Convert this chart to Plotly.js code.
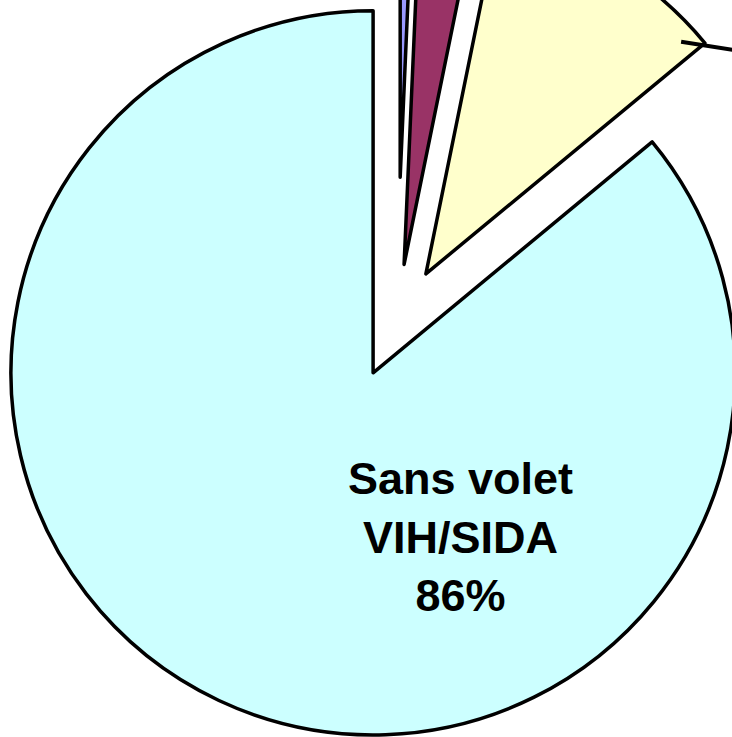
<!DOCTYPE html>
<html>
<head>
<meta charset="utf-8">
<script src="https://cdn.plot.ly/plotly-3.0.1.min.js"></script>
<style>
  html, body { margin: 0; padding: 0; width: 732px; height: 737px; overflow: hidden; background: #ffffff; }
  #chart { position: absolute; left: -110px; top: -185px; width: 1014px; height: 1014px; }
</style>
</head>
<body>
<div id="chart"></div>
<script>
// Data (clockwise from 12 o'clock)
const labels = ['Non renseigné', 'Volet VIH/SIDA partiel', 'Avec volet VIH/SIDA', 'Sans volet VIH/SIDA'];
const values = [0.7, 2.5, 10.8, 86];
const colors = ['#9999FF', '#993366', '#FFFFCC', '#CCFFFF'];
const pulls = [0.4, 0.16, 0.155, 0.155];

const total = values.reduce((a, b) => a + b, 0);
const pct = values.map(v => Math.round(v / total * 100) + '%');

const trace = {
  type: 'pie',
  labels: labels,
  values: values,
  sort: false,
  direction: 'clockwise',
  rotation: 0,
  pull: pulls,
  marker: { colors: colors, line: { color: '#000000', width: 3.5 } },
  textinfo: 'none',
  hoverinfo: 'none',
  showlegend: false
};

const mainIdx = 3;
const mainText = labels[mainIdx].replace(' VIH', '<br>VIH') + '<br>' + pct[mainIdx];

const layout = {
  width: 1014,
  height: 1014,
  margin: { l: 0, r: 0, t: 0, b: 0 },
  paper_bgcolor: '#ffffff',
  showlegend: false,
  annotations: [
    {
      text: '<b>' + mainText + '</b>',
      x: 0.5622, y: 0.2875, xref: 'paper', yref: 'paper',
      xanchor: 'center', yanchor: 'middle',
      showarrow: false,
      font: { family: 'Liberation Sans, Arial, sans-serif', size: 45, color: '#000000' }
    },
    {
      text: '',
      x: 0.7802, y: 0.7764, xref: 'paper', yref: 'paper',
      showarrow: true, arrowhead: 0, arrowwidth: 4, arrowcolor: '#000000',
      ax: 140, ay: 22
    }
  ]
};

Plotly.newPlot('chart', [trace], layout, { displayModeBar: false, staticPlot: true });
</script>
</body>
</html>
